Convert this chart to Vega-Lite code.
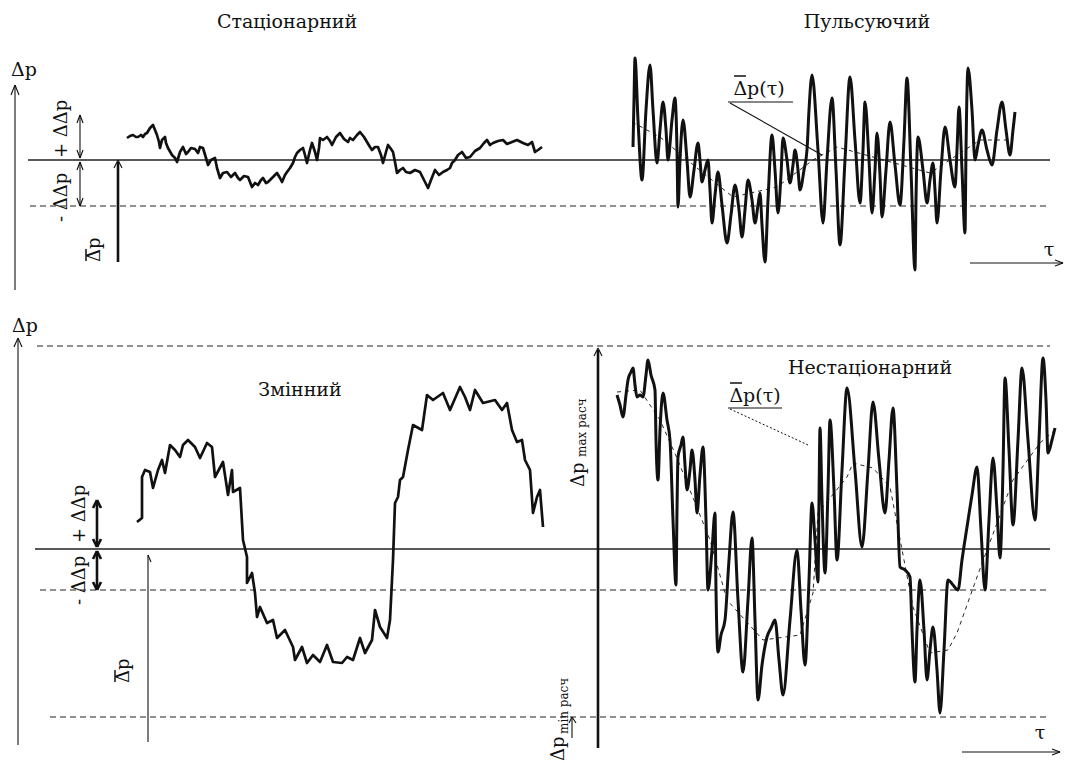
{
  "$schema": "https://vega.github.io/schema/vega-lite/v6.json",
  "width": 1067,
  "height": 763,
  "autosize": {"type": "fit", "contains": "padding"},
  "padding": 0,
  "background": "white",
  "config": {"view": {"stroke": null}},
  "datasets": {
    "segs": [
      {"kind": "thin", "x": 15, "y": 290, "x2": 15, "y2": 85},
      {"kind": "thin", "x": 15, "y": 85, "x2": 11, "y2": 95},
      {"kind": "thin", "x": 15, "y": 85, "x2": 19, "y2": 95},
      {"kind": "solid", "x": 28, "y": 160, "x2": 1050, "y2": 160},
      {"kind": "dashed", "x": 30, "y": 206, "x2": 1050, "y2": 206},
      {"kind": "thin", "x": 80, "y": 115, "x2": 80, "y2": 158},
      {"kind": "thin", "x": 80, "y": 115, "x2": 77, "y2": 123},
      {"kind": "thin", "x": 80, "y": 115, "x2": 83, "y2": 123},
      {"kind": "thin", "x": 80, "y": 158, "x2": 77, "y2": 150},
      {"kind": "thin", "x": 80, "y": 158, "x2": 83, "y2": 150},
      {"kind": "thin", "x": 80, "y": 162, "x2": 80, "y2": 206},
      {"kind": "thin", "x": 80, "y": 162, "x2": 77, "y2": 170},
      {"kind": "thin", "x": 80, "y": 162, "x2": 83, "y2": 170},
      {"kind": "thin", "x": 80, "y": 206, "x2": 77, "y2": 198},
      {"kind": "thin", "x": 80, "y": 206, "x2": 83, "y2": 198},
      {"kind": "thick", "x": 118, "y": 262, "x2": 118, "y2": 162},
      {"kind": "thin", "x": 118, "y": 160, "x2": 114, "y2": 168},
      {"kind": "thin", "x": 118, "y": 160, "x2": 122, "y2": 168},
      {"kind": "thin", "x": 728, "y": 102, "x2": 793, "y2": 102},
      {"kind": "thin", "x": 730, "y": 103, "x2": 822, "y2": 155},
      {"kind": "thin", "x": 970, "y": 263, "x2": 1063, "y2": 263},
      {"kind": "thin", "x": 1063, "y": 263, "x2": 1055, "y2": 260},
      {"kind": "thin", "x": 1063, "y": 263, "x2": 1055, "y2": 266},
      {"kind": "thin", "x": 18, "y": 745, "x2": 18, "y2": 340},
      {"kind": "thin", "x": 18, "y": 338, "x2": 14, "y2": 347},
      {"kind": "thin", "x": 18, "y": 338, "x2": 22, "y2": 347},
      {"kind": "dashed", "x": 37, "y": 346, "x2": 1050, "y2": 346},
      {"kind": "solid", "x": 35, "y": 549, "x2": 1050, "y2": 549},
      {"kind": "dashed", "x": 40, "y": 590, "x2": 1050, "y2": 590},
      {"kind": "dashed", "x": 50, "y": 717, "x2": 1050, "y2": 717},
      {"kind": "thick", "x": 97, "y": 502, "x2": 97, "y2": 547},
      {"kind": "thick", "x": 97, "y": 500, "x2": 93, "y2": 508},
      {"kind": "thick", "x": 97, "y": 500, "x2": 101, "y2": 508},
      {"kind": "thick", "x": 97, "y": 547, "x2": 93, "y2": 539},
      {"kind": "thick", "x": 97, "y": 547, "x2": 101, "y2": 539},
      {"kind": "thick", "x": 97, "y": 551, "x2": 97, "y2": 590},
      {"kind": "thick", "x": 97, "y": 551, "x2": 93, "y2": 559},
      {"kind": "thick", "x": 97, "y": 551, "x2": 101, "y2": 559},
      {"kind": "thick", "x": 97, "y": 590, "x2": 93, "y2": 582},
      {"kind": "thick", "x": 97, "y": 590, "x2": 101, "y2": 582},
      {"kind": "thin", "x": 148, "y": 742, "x2": 148, "y2": 555},
      {"kind": "thin", "x": 148, "y": 555, "x2": 151, "y2": 562},
      {"kind": "thick", "x": 598, "y": 748, "x2": 598, "y2": 350},
      {"kind": "thin", "x": 598, "y": 348, "x2": 594, "y2": 356},
      {"kind": "thin", "x": 598, "y": 348, "x2": 602, "y2": 356},
      {"kind": "thin", "x": 572, "y": 738, "x2": 572, "y2": 718},
      {"kind": "thin", "x": 572, "y": 717, "x2": 569, "y2": 723},
      {"kind": "thin", "x": 572, "y": 717, "x2": 576, "y2": 723},
      {"kind": "thin", "x": 728, "y": 408, "x2": 782, "y2": 408},
      {"kind": "dotted", "x": 730, "y": 409, "x2": 808, "y2": 445},
      {"kind": "thin", "x": 962, "y": 752, "x2": 1060, "y2": 752},
      {"kind": "thin", "x": 1060, "y": 752, "x2": 1052, "y2": 749},
      {"kind": "thin", "x": 1060, "y": 752, "x2": 1052, "y2": 755},
      {"kind": "bar", "x": 734, "y": 76, "x2": 746, "y2": 76},
      {"kind": "bar", "x": 730, "y": 383, "x2": 742, "y2": 383},
      {"kind": "bar", "x": 86, "y": 249, "x2": 86, "y2": 261},
      {"kind": "bar", "x": 115, "y": 670, "x2": 115, "y2": 682}
    ],
    "sig": [
      {"s":"st","x":127,"y":138},{"s":"st","x":130,"y":136},{"s":"st","x":133,"y":135},{"s":"st","x":136,"y":137},{"s":"st","x":138,"y":137},{"s":"st","x":141,"y":135},{"s":"st","x":143,"y":137},{"s":"st","x":145,"y":134},{"s":"st","x":147,"y":133},{"s":"st","x":150,"y":128},{"s":"st","x":153,"y":125},{"s":"st","x":155,"y":130},{"s":"st","x":157,"y":135},{"s":"st","x":159,"y":142},{"s":"st","x":160,"y":148},{"s":"st","x":162,"y":140},{"s":"st","x":165,"y":137},{"s":"st","x":166,"y":143},{"s":"st","x":168,"y":148},{"s":"st","x":172,"y":155},{"s":"st","x":175,"y":158},{"s":"st","x":177,"y":162},{"s":"st","x":180,"y":152},{"s":"st","x":183,"y":147},{"s":"st","x":186,"y":154},{"s":"st","x":188,"y":152},{"s":"st","x":191,"y":148},{"s":"st","x":195,"y":149},{"s":"st","x":198,"y":153},{"s":"st","x":200,"y":147},{"s":"st","x":203,"y":148},{"s":"st","x":206,"y":158},{"s":"st","x":208,"y":165},{"s":"st","x":211,"y":160},{"s":"st","x":215,"y":158},{"s":"st","x":217,"y":168},{"s":"st","x":220,"y":178},{"s":"st","x":223,"y":173},{"s":"st","x":227,"y":172},{"s":"st","x":231,"y":177},{"s":"st","x":235,"y":173},{"s":"st","x":238,"y":178},{"s":"st","x":240,"y":180},{"s":"st","x":244,"y":176},{"s":"st","x":248,"y":177},{"s":"st","x":250,"y":182},{"s":"st","x":252,"y":187},{"s":"st","x":255,"y":183},{"s":"st","x":258,"y":185},{"s":"st","x":261,"y":180},{"s":"st","x":263,"y":178},{"s":"st","x":266,"y":183},{"s":"st","x":268,"y":182},{"s":"st","x":272,"y":178},{"s":"st","x":277,"y":173},{"s":"st","x":280,"y":178},{"s":"st","x":282,"y":182},{"s":"st","x":285,"y":175},{"s":"st","x":287,"y":172},{"s":"st","x":290,"y":168},{"s":"st","x":293,"y":163},{"s":"st","x":295,"y":157},{"s":"st","x":297,"y":153},{"s":"st","x":300,"y":150},{"s":"st","x":303,"y":148},{"s":"st","x":305,"y":155},{"s":"st","x":307,"y":163},{"s":"st","x":310,"y":150},{"s":"st","x":312,"y":143},{"s":"st","x":315,"y":152},{"s":"st","x":317,"y":160},{"s":"st","x":319,"y":148},{"s":"st","x":320,"y":138},{"s":"st","x":323,"y":140},{"s":"st","x":327,"y":137},{"s":"st","x":330,"y":141},{"s":"st","x":332,"y":145},{"s":"st","x":336,"y":137},{"s":"st","x":340,"y":133},{"s":"st","x":344,"y":139},{"s":"st","x":348,"y":142},{"s":"st","x":350,"y":138},{"s":"st","x":353,"y":140},{"s":"st","x":357,"y":135},{"s":"st","x":360,"y":132},{"s":"st","x":364,"y":137},{"s":"st","x":367,"y":142},{"s":"st","x":370,"y":147},{"s":"st","x":372,"y":150},{"s":"st","x":375,"y":147},{"s":"st","x":378,"y":147},{"s":"st","x":381,"y":155},{"s":"st","x":383,"y":163},{"s":"st","x":386,"y":152},{"s":"st","x":388,"y":145},{"s":"st","x":391,"y":149},{"s":"st","x":393,"y":152},{"s":"st","x":395,"y":162},{"s":"st","x":397,"y":173},{"s":"st","x":400,"y":170},{"s":"st","x":403,"y":168},{"s":"st","x":406,"y":172},{"s":"st","x":410,"y":173},{"s":"st","x":415,"y":170},{"s":"st","x":420,"y":172},{"s":"st","x":424,"y":180},{"s":"st","x":428,"y":188},{"s":"st","x":431,"y":180},{"s":"st","x":435,"y":170},{"s":"st","x":439,"y":175},{"s":"st","x":443,"y":172},{"s":"st","x":447,"y":170},{"s":"st","x":450,"y":168},{"s":"st","x":452,"y":163},{"s":"st","x":455,"y":160},{"s":"st","x":458,"y":155},{"s":"st","x":462,"y":152},{"s":"st","x":466,"y":158},{"s":"st","x":470,"y":157},{"s":"st","x":475,"y":151},{"s":"st","x":480,"y":148},{"s":"st","x":484,"y":143},{"s":"st","x":487,"y":140},{"s":"st","x":490,"y":145},{"s":"st","x":493,"y":143},{"s":"st","x":498,"y":141},{"s":"st","x":503,"y":140},{"s":"st","x":507,"y":144},{"s":"st","x":512,"y":142},{"s":"st","x":517,"y":140},{"s":"st","x":523,"y":143},{"s":"st","x":528,"y":145},{"s":"st","x":532,"y":142},{"s":"st","x":535,"y":152},{"s":"st","x":538,"y":150},{"s":"st","x":542,"y":147},
      {"s":"zm","x":137,"y":522},{"s":"zm","x":142,"y":518},{"s":"zm","x":142,"y":477},{"s":"zm","x":145,"y":470},{"s":"zm","x":150,"y":472},{"s":"zm","x":153,"y":488},{"s":"zm","x":158,"y":470},{"s":"zm","x":162,"y":460},{"s":"zm","x":165,"y":473},{"s":"zm","x":170,"y":445},{"s":"zm","x":175,"y":450},{"s":"zm","x":180,"y":457},{"s":"zm","x":183,"y":445},{"s":"zm","x":188,"y":440},{"s":"zm","x":195,"y":447},{"s":"zm","x":200,"y":458},{"s":"zm","x":207,"y":443},{"s":"zm","x":212,"y":447},{"s":"zm","x":215,"y":477},{"s":"zm","x":223,"y":462},{"s":"zm","x":228,"y":495},{"s":"zm","x":232,"y":470},{"s":"zm","x":233,"y":492},{"s":"zm","x":240,"y":488},{"s":"zm","x":243,"y":540},{"s":"zm","x":247,"y":557},{"s":"zm","x":247,"y":583},{"s":"zm","x":252,"y":573},{"s":"zm","x":255,"y":593},{"s":"zm","x":257,"y":617},{"s":"zm","x":260,"y":607},{"s":"zm","x":267,"y":623},{"s":"zm","x":273,"y":620},{"s":"zm","x":277,"y":638},{"s":"zm","x":285,"y":630},{"s":"zm","x":293,"y":647},{"s":"zm","x":295,"y":660},{"s":"zm","x":302,"y":647},{"s":"zm","x":307,"y":663},{"s":"zm","x":313,"y":655},{"s":"zm","x":320,"y":662},{"s":"zm","x":327,"y":645},{"s":"zm","x":333,"y":662},{"s":"zm","x":342,"y":663},{"s":"zm","x":347,"y":657},{"s":"zm","x":353,"y":660},{"s":"zm","x":360,"y":638},{"s":"zm","x":365,"y":653},{"s":"zm","x":372,"y":640},{"s":"zm","x":375,"y":610},{"s":"zm","x":380,"y":627},{"s":"zm","x":387,"y":638},{"s":"zm","x":390,"y":620},{"s":"zm","x":393,"y":560},{"s":"zm","x":395,"y":503},{"s":"zm","x":398,"y":497},{"s":"zm","x":400,"y":480},{"s":"zm","x":403,"y":477},{"s":"zm","x":408,"y":450},{"s":"zm","x":413,"y":425},{"s":"zm","x":422,"y":430},{"s":"zm","x":427,"y":395},{"s":"zm","x":433,"y":400},{"s":"zm","x":443,"y":393},{"s":"zm","x":450,"y":410},{"s":"zm","x":460,"y":387},{"s":"zm","x":465,"y":397},{"s":"zm","x":470,"y":410},{"s":"zm","x":475,"y":390},{"s":"zm","x":483,"y":403},{"s":"zm","x":495,"y":400},{"s":"zm","x":502,"y":410},{"s":"zm","x":507,"y":403},{"s":"zm","x":512,"y":430},{"s":"zm","x":517,"y":442},{"s":"zm","x":522,"y":440},{"s":"zm","x":525,"y":460},{"s":"zm","x":530,"y":470},{"s":"zm","x":533,"y":513},{"s":"zm","x":537,"y":497},{"s":"zm","x":540,"y":490},{"s":"zm","x":543,"y":527}
    ],
    "heavy": [
      {"s":"pu","x":633,"y":147},{"s":"pu","x":634,"y":100},{"s":"pu","x":635,"y":58},{"s":"pu","x":638,"y":120},{"s":"pu","x":642,"y":180},{"s":"pu","x":646,"y":110},{"s":"pu","x":650,"y":65},{"s":"pu","x":653,"y":110},{"s":"pu","x":657,"y":163},{"s":"pu","x":660,"y":130},{"s":"pu","x":663,"y":102},{"s":"pu","x":666,"y":130},{"s":"pu","x":668,"y":160},{"s":"pu","x":672,"y":120},{"s":"pu","x":675,"y":98},{"s":"pu","x":677,"y":150},{"s":"pu","x":678,"y":207},{"s":"pu","x":680,"y":160},{"s":"pu","x":683,"y":120},{"s":"pu","x":687,"y":160},{"s":"pu","x":690,"y":197},{"s":"pu","x":694,"y":170},{"s":"pu","x":698,"y":143},{"s":"pu","x":700,"y":160},{"s":"pu","x":702,"y":182},{"s":"pu","x":705,"y":170},{"s":"pu","x":708,"y":160},{"s":"pu","x":710,"y":190},{"s":"pu","x":712,"y":223},{"s":"pu","x":715,"y":195},{"s":"pu","x":718,"y":172},{"s":"pu","x":722,"y":205},{"s":"pu","x":727,"y":243},{"s":"pu","x":731,"y":215},{"s":"pu","x":735,"y":185},{"s":"pu","x":739,"y":210},{"s":"pu","x":742,"y":237},{"s":"pu","x":745,"y":210},{"s":"pu","x":748,"y":180},{"s":"pu","x":752,"y":200},{"s":"pu","x":755,"y":223},{"s":"pu","x":758,"y":205},{"s":"pu","x":760,"y":193},{"s":"pu","x":762,"y":225},{"s":"pu","x":765,"y":262},{"s":"pu","x":768,"y":200},{"s":"pu","x":772,"y":135},{"s":"pu","x":775,"y":170},{"s":"pu","x":778,"y":213},{"s":"pu","x":781,"y":175},{"s":"pu","x":783,"y":138},{"s":"pu","x":787,"y":160},{"s":"pu","x":790,"y":183},{"s":"pu","x":793,"y":165},{"s":"pu","x":795,"y":150},{"s":"pu","x":798,"y":170},{"s":"pu","x":800,"y":190},{"s":"pu","x":804,"y":170},{"s":"pu","x":807,"y":150},{"s":"pu","x":809,"y":110},{"s":"pu","x":812,"y":75},{"s":"pu","x":818,"y":150},{"s":"pu","x":823,"y":223},{"s":"pu","x":827,"y":160},{"s":"pu","x":832,"y":98},{"s":"pu","x":836,"y":170},{"s":"pu","x":840,"y":245},{"s":"pu","x":845,"y":160},{"s":"pu","x":850,"y":77},{"s":"pu","x":855,"y":140},{"s":"pu","x":860,"y":203},{"s":"pu","x":863,"y":150},{"s":"pu","x":865,"y":102},{"s":"pu","x":869,"y":160},{"s":"pu","x":872,"y":213},{"s":"pu","x":875,"y":170},{"s":"pu","x":877,"y":133},{"s":"pu","x":880,"y":175},{"s":"pu","x":882,"y":217},{"s":"pu","x":886,"y":170},{"s":"pu","x":890,"y":122},{"s":"pu","x":895,"y":165},{"s":"pu","x":900,"y":205},{"s":"pu","x":904,"y":140},{"s":"pu","x":907,"y":78},{"s":"pu","x":911,"y":170},{"s":"pu","x":915,"y":270},{"s":"pu","x":916,"y":200},{"s":"pu","x":918,"y":137},{"s":"pu","x":923,"y":170},{"s":"pu","x":927,"y":203},{"s":"pu","x":930,"y":180},{"s":"pu","x":933,"y":163},{"s":"pu","x":935,"y":190},{"s":"pu","x":937,"y":223},{"s":"pu","x":941,"y":170},{"s":"pu","x":945,"y":127},{"s":"pu","x":950,"y":160},{"s":"pu","x":955,"y":187},{"s":"pu","x":957,"y":150},{"s":"pu","x":959,"y":107},{"s":"pu","x":962,"y":170},{"s":"pu","x":965,"y":233},{"s":"pu","x":966,"y":150},{"s":"pu","x":968,"y":68},{"s":"pu","x":972,"y":110},{"s":"pu","x":975,"y":160},{"s":"pu","x":978,"y":145},{"s":"pu","x":982,"y":130},{"s":"pu","x":987,"y":150},{"s":"pu","x":992,"y":165},{"s":"pu","x":997,"y":130},{"s":"pu","x":1002,"y":102},{"s":"pu","x":1006,"y":130},{"s":"pu","x":1010,"y":155},{"s":"pu","x":1013,"y":130},{"s":"pu","x":1015,"y":112},
      {"s":"ns","x":617,"y":395},{"s":"ns","x":620,"y":405},{"s":"ns","x":623,"y":417},{"s":"ns","x":626,"y":395},{"s":"ns","x":628,"y":380},{"s":"ns","x":631,"y":372},{"s":"ns","x":633,"y":368},{"s":"ns","x":635,"y":385},{"s":"ns","x":637,"y":397},{"s":"ns","x":640,"y":395},{"s":"ns","x":643,"y":397},{"s":"ns","x":646,"y":375},{"s":"ns","x":648,"y":360},{"s":"ns","x":651,"y":375},{"s":"ns","x":655,"y":390},{"s":"ns","x":656,"y":440},{"s":"ns","x":658,"y":480},{"s":"ns","x":660,"y":430},{"s":"ns","x":663,"y":393},{"s":"ns","x":667,"y":420},{"s":"ns","x":670,"y":440},{"s":"ns","x":673,"y":520},{"s":"ns","x":676,"y":585},{"s":"ns","x":677,"y":510},{"s":"ns","x":678,"y":457},{"s":"ns","x":681,"y":445},{"s":"ns","x":683,"y":437},{"s":"ns","x":685,"y":465},{"s":"ns","x":687,"y":490},{"s":"ns","x":690,"y":470},{"s":"ns","x":692,"y":450},{"s":"ns","x":695,"y":480},{"s":"ns","x":697,"y":513},{"s":"ns","x":700,"y":475},{"s":"ns","x":703,"y":447},{"s":"ns","x":706,"y":520},{"s":"ns","x":708,"y":590},{"s":"ns","x":712,"y":550},{"s":"ns","x":715,"y":513},{"s":"ns","x":716,"y":590},{"s":"ns","x":718,"y":652},{"s":"ns","x":721,"y":635},{"s":"ns","x":725,"y":620},{"s":"ns","x":729,"y":560},{"s":"ns","x":733,"y":512},{"s":"ns","x":738,"y":600},{"s":"ns","x":743,"y":672},{"s":"ns","x":748,"y":600},{"s":"ns","x":752,"y":538},{"s":"ns","x":755,"y":620},{"s":"ns","x":758,"y":700},{"s":"ns","x":762,"y":665},{"s":"ns","x":767,"y":637},{"s":"ns","x":771,"y":628},{"s":"ns","x":775,"y":620},{"s":"ns","x":779,"y":660},{"s":"ns","x":783,"y":695},{"s":"ns","x":790,"y":620},{"s":"ns","x":797,"y":550},{"s":"ns","x":801,"y":610},{"s":"ns","x":805,"y":665},{"s":"ns","x":809,"y":580},{"s":"ns","x":812,"y":503},{"s":"ns","x":815,"y":540},{"s":"ns","x":818,"y":582},{"s":"ns","x":819,"y":500},{"s":"ns","x":820,"y":428},{"s":"ns","x":822,"y":500},{"s":"ns","x":825,"y":573},{"s":"ns","x":828,"y":490},{"s":"ns","x":830,"y":420},{"s":"ns","x":834,"y":490},{"s":"ns","x":837,"y":560},{"s":"ns","x":842,"y":470},{"s":"ns","x":847,"y":388},{"s":"ns","x":855,"y":470},{"s":"ns","x":862,"y":547},{"s":"ns","x":868,"y":470},{"s":"ns","x":873,"y":402},{"s":"ns","x":879,"y":460},{"s":"ns","x":885,"y":513},{"s":"ns","x":889,"y":460},{"s":"ns","x":893,"y":408},{"s":"ns","x":897,"y":490},{"s":"ns","x":900,"y":567},{"s":"ns","x":905,"y":570},{"s":"ns","x":910,"y":577},{"s":"ns","x":912,"y":630},{"s":"ns","x":915,"y":682},{"s":"ns","x":917,"y":630},{"s":"ns","x":920,"y":580},{"s":"ns","x":924,"y":630},{"s":"ns","x":927,"y":680},{"s":"ns","x":930,"y":650},{"s":"ns","x":933,"y":627},{"s":"ns","x":937,"y":670},{"s":"ns","x":940,"y":713},{"s":"ns","x":944,"y":650},{"s":"ns","x":948,"y":580},{"s":"ns","x":953,"y":585},{"s":"ns","x":958,"y":590},{"s":"ns","x":962,"y":560},{"s":"ns","x":967,"y":527},{"s":"ns","x":972,"y":495},{"s":"ns","x":977,"y":467},{"s":"ns","x":981,"y":530},{"s":"ns","x":985,"y":590},{"s":"ns","x":989,"y":520},{"s":"ns","x":993,"y":458},{"s":"ns","x":997,"y":510},{"s":"ns","x":1000,"y":558},{"s":"ns","x":1003,"y":470},{"s":"ns","x":1005,"y":378},{"s":"ns","x":1009,"y":450},{"s":"ns","x":1013,"y":525},{"s":"ns","x":1018,"y":440},{"s":"ns","x":1022,"y":368},{"s":"ns","x":1028,"y":440},{"s":"ns","x":1035,"y":520},{"s":"ns","x":1039,"y":440},{"s":"ns","x":1043,"y":358},{"s":"ns","x":1046,"y":400},{"s":"ns","x":1048,"y":453},{"s":"ns","x":1052,"y":440},{"s":"ns","x":1055,"y":428}
    ],
    "means": [
      {"s":"pm","x":632,"y":122},{"s":"pm","x":660,"y":137},{"s":"pm","x":697,"y":168},{"s":"pm","x":733,"y":197},{"s":"pm","x":777,"y":187},{"s":"pm","x":813,"y":160},{"s":"pm","x":837,"y":147},{"s":"pm","x":873,"y":157},{"s":"pm","x":930,"y":173},{"s":"pm","x":980,"y":140},{"s":"pm","x":1010,"y":140},
      {"s":"nm","x":617,"y":392},{"s":"nm","x":640,"y":390},{"s":"nm","x":660,"y":420},{"s":"nm","x":677,"y":458},{"s":"nm","x":710,"y":540},{"s":"nm","x":727,"y":600},{"s":"nm","x":763,"y":640},{"s":"nm","x":800,"y":635},{"s":"nm","x":813,"y":593},{"s":"nm","x":818,"y":513},{"s":"nm","x":847,"y":477},{"s":"nm","x":853,"y":463},{"s":"nm","x":873,"y":468},{"s":"nm","x":890,"y":487},{"s":"nm","x":913,"y":607},{"s":"nm","x":930,"y":653},{"s":"nm","x":948,"y":650},{"s":"nm","x":957,"y":633},{"s":"nm","x":977,"y":577},{"s":"nm","x":1013,"y":480},{"s":"nm","x":1040,"y":443},{"s":"nm","x":1055,"y":430}
    ],
    "labels": [
      {"kind":"title","text":"Стаціонарний","x":287,"y":22},
      {"kind":"title","text":"Пульсуючий","x":867,"y":22},
      {"kind":"title","text":"Змінний","x":300,"y":390},
      {"kind":"title","text":"Нестаціонарний","x":870,"y":368},
      {"kind":"sym","text":"Δp","x":24,"y":70},
      {"kind":"sym","text":"Δp","x":25,"y":326},
      {"kind":"sym","text":"Δp(τ)","x":759,"y":89},
      {"kind":"sym","text":"Δp(τ)","x":755,"y":396},
      {"kind":"sym","text":"τ","x":1049,"y":250},
      {"kind":"sym","text":"τ","x":1040,"y":733},
      {"kind":"rot","text":"+ ΔΔp","x":62,"y":158},
      {"kind":"rot","text":"- ΔΔp","x":62,"y":222},
      {"kind":"rot","text":"Δp","x":95,"y":262},
      {"kind":"rot","text":"+ ΔΔp","x":80,"y":543},
      {"kind":"rot","text":"- ΔΔp","x":80,"y":605},
      {"kind":"rot","text":"Δp","x":124,"y":683},
      {"kind":"rot","text":"Δp","x":579,"y":487},
      {"kind":"rot","text":"Δp","x":559,"y":761},
      {"kind":"rotsmall","text":"max расч","x":582,"y":457},
      {"kind":"rotsmall","text":"min расч","x":564,"y":734}
    ]
  },
  "layer": [
    {
      "data": {"name": "segs"},
      "transform": [{"filter": "datum.kind === 'solid'"}],
      "mark": {"type": "rule", "stroke": "#222", "strokeWidth": 1.4},
      "encoding": {
        "x": {"field": "x", "type": "quantitative", "scale": {"domain": [0, 1067], "nice": false, "zero": false}, "axis": null},
        "y": {"field": "y", "type": "quantitative", "scale": {"domain": [0, 763], "nice": false, "zero": false, "reverse": true}, "axis": null},
        "x2": {"field": "x2"},
        "y2": {"field": "y2"}
      }
    },
    {
      "data": {"name": "segs"},
      "transform": [{"filter": "datum.kind === 'dashed'"}],
      "mark": {"type": "rule", "stroke": "#222", "strokeWidth": 1.2, "strokeDash": [6, 4]},
      "encoding": {
        "x": {"field": "x", "type": "quantitative"},
        "y": {"field": "y", "type": "quantitative"},
        "x2": {"field": "x2"},
        "y2": {"field": "y2"}
      }
    },
    {
      "data": {"name": "segs"},
      "transform": [{"filter": "datum.kind === 'thin'"}],
      "mark": {"type": "rule", "stroke": "#111", "strokeWidth": 1.1},
      "encoding": {
        "x": {"field": "x", "type": "quantitative"},
        "y": {"field": "y", "type": "quantitative"},
        "x2": {"field": "x2"},
        "y2": {"field": "y2"}
      }
    },
    {
      "data": {"name": "segs"},
      "transform": [{"filter": "datum.kind === 'bar'"}],
      "mark": {"type": "rule", "stroke": "#111", "strokeWidth": 1.5},
      "encoding": {
        "x": {"field": "x", "type": "quantitative"},
        "y": {"field": "y", "type": "quantitative"},
        "x2": {"field": "x2"},
        "y2": {"field": "y2"}
      }
    },
    {
      "data": {"name": "segs"},
      "transform": [{"filter": "datum.kind === 'thick'"}],
      "mark": {"type": "rule", "stroke": "#111", "strokeWidth": 2.6},
      "encoding": {
        "x": {"field": "x", "type": "quantitative"},
        "y": {"field": "y", "type": "quantitative"},
        "x2": {"field": "x2"},
        "y2": {"field": "y2"}
      }
    },
    {
      "data": {"name": "segs"},
      "transform": [{"filter": "datum.kind === 'dotted'"}],
      "mark": {"type": "rule", "stroke": "#111", "strokeWidth": 1, "strokeDash": [2, 2]},
      "encoding": {
        "x": {"field": "x", "type": "quantitative"},
        "y": {"field": "y", "type": "quantitative"},
        "x2": {"field": "x2"},
        "y2": {"field": "y2"}
      }
    },
    {
      "data": {"name": "means"},
      "mark": {"type": "line", "stroke": "#111", "strokeWidth": 0.9, "strokeDash": [4, 4]},
      "encoding": {
        "x": {"field": "x", "type": "quantitative"},
        "y": {"field": "y", "type": "quantitative"},
        "detail": {"field": "s"},
        "order": {"field": "x"}
      }
    },
    {
      "data": {"name": "sig"},
      "mark": {"type": "line", "stroke": "#111", "strokeWidth": 2.7, "strokeJoin": "round"},
      "encoding": {
        "x": {"field": "x", "type": "quantitative"},
        "y": {"field": "y", "type": "quantitative"},
        "detail": {"field": "s"},
        "order": {"field": "x"}
      }
    },
    {
      "data": {"name": "heavy"},
      "mark": {"type": "line", "stroke": "#111", "strokeWidth": 3, "interpolate": "monotone"},
      "encoding": {
        "x": {"field": "x", "type": "quantitative"},
        "y": {"field": "y", "type": "quantitative"},
        "detail": {"field": "s"},
        "order": {"field": "x"}
      }
    },
    {
      "data": {"name": "labels"},
      "transform": [{"filter": "datum.kind === 'title'"}],
      "mark": {"type": "text", "font": "DejaVu Serif", "fontSize": 19, "color": "#111", "align": "center", "baseline": "middle"},
      "encoding": {
        "x": {"field": "x", "type": "quantitative"},
        "y": {"field": "y", "type": "quantitative"},
        "text": {"field": "text"}
      }
    },
    {
      "data": {"name": "labels"},
      "transform": [{"filter": "datum.kind === 'sym'"}],
      "mark": {"type": "text", "font": "DejaVu Serif", "fontSize": 19, "color": "#111", "align": "center", "baseline": "middle"},
      "encoding": {
        "x": {"field": "x", "type": "quantitative"},
        "y": {"field": "y", "type": "quantitative"},
        "text": {"field": "text"}
      }
    },
    {
      "data": {"name": "labels"},
      "transform": [{"filter": "datum.kind === 'rot'"}],
      "mark": {"type": "text", "font": "DejaVu Serif", "fontSize": 18, "color": "#111", "align": "left", "baseline": "middle", "angle": 270},
      "encoding": {
        "x": {"field": "x", "type": "quantitative"},
        "y": {"field": "y", "type": "quantitative"},
        "text": {"field": "text"}
      }
    },
    {
      "data": {"name": "labels"},
      "transform": [{"filter": "datum.kind === 'rotsmall'"}],
      "mark": {"type": "text", "font": "DejaVu Serif", "fontSize": 12, "color": "#111", "align": "left", "baseline": "middle", "angle": 270},
      "encoding": {
        "x": {"field": "x", "type": "quantitative"},
        "y": {"field": "y", "type": "quantitative"},
        "text": {"field": "text"}
      }
    }
  ]
}
